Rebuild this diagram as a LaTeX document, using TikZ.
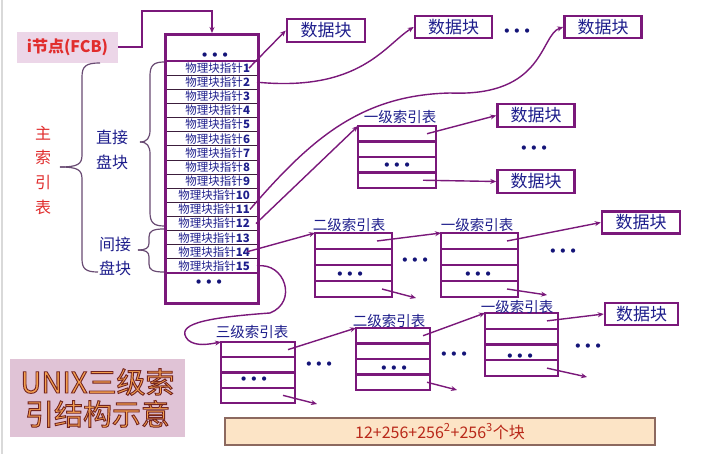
\documentclass[tikz,border=0pt]{standalone}
\usepackage{fontspec}
\usetikzlibrary{arrows.meta,calc}
\newfontfamily\cjk{Noto Sans CJK SC}
\newfontfamily\dotfont{DejaVu Sans}
\definecolor{pur}{RGB}{122,24,122}
\definecolor{bluet}{RGB}{30,30,140}
\definecolor{dotc}{RGB}{20,20,120}
\definecolor{redt}{RGB}{225,45,45}
\definecolor{bracec}{RGB}{105,75,115}
\definecolor{pinkA}{RGB}{236,214,232}
\definecolor{pinkB}{RGB}{224,195,214}
\definecolor{peach}{RGB}{252,228,198}
\definecolor{peachb}{RGB}{140,105,95}
\definecolor{sumred}{RGB}{185,40,25}
\definecolor{orangeT}{RGB}{245,160,80}
\definecolor{rowc}{RGB}{60,30,60}
\newcommand\OutOn{\special{pdf:literal direct 2 Tr 0.9 w 0.45 0.14 0.12 RG}}
\newcommand\OutOff{\special{pdf:literal direct 0 Tr}}
\newcommand\IdxTab[5]{%
  \node[irow, minimum width=#4, minimum height=#5] (#1a) at (#2,#3) {};
  \node[irow, minimum width=#4, minimum height=#5] (#1b) at (#1a.south west) {};
  \node[irow, minimum width=#4, minimum height=#5] (#1c) at (#1b.south west) {};
  \node[irow, minimum width=#4, minimum height=#5] (#1d) at (#1c.south west) {};
}
\tikzset{
  conn/.style={draw=pur, line width=1.4, -{Stealth[length=6pt,width=5pt]}},
  databox/.style={draw=pur, line width=2.5, fill=white, minimum width=77, minimum height=22,
    inner sep=0, font=\cjk\fontsize{17}{17}\selectfont, text=bluet},
  irow/.style={draw=pur, line width=2.2, inner sep=0, outer sep=0, anchor=north west},
  ilabel/.style={font=\cjk\fontsize{14.5}{14.5}\selectfont, text=bluet, inner sep=0},
  dotnode/.style={font=\dotfont\bfseries\fontsize{12}{12}\selectfont, text=dotc, inner sep=0},
  mrow/.style={draw=rowc, line width=0.8, minimum width=93, minimum height=14.133,
    text width=79, align=right, inner sep=0, outer sep=0, anchor=north west,
    font=\cjk\fontsize{11.5}{12}\selectfont, text=bluet},
  bracel/.style={draw=bracec, line width=1.2}
}
\newcommand\Dts{•\hspace{2.5pt}•\hspace{2.5pt}•}
\begin{document}
\begin{tikzpicture}[x=1pt,y=-1pt]
\useasboundingbox (0,0) rectangle (727,454);
\fill[white] (0,0) rectangle (727,454);
\draw[black!15, line width=1.5] (2,0) -- (2,454);

% FCB
\node[fill=pinkA, minimum width=101, minimum height=31, inner sep=0,
  font=\cjk\bfseries\fontsize{16}{16}\selectfont, text=redt] (fcb) at (67.5,47.5) {i节点(FCB)};

% main table rows
\foreach \i in {1,...,15}{
  \node[mrow] (r\i) at (164,{61+(\i-1)*14.133}) {物理块指针\textbf{\i}};
}
\draw[pur, line width=2.5] (r1.north west) -- (r1.north east);
\draw[pur, line width=2.5] (r15.south west) -- (r15.south east);
\node[draw=pur, line width=3, minimum width=93, minimum height=269, anchor=north west, inner sep=0] (mt) at (164,33) {};
\node[dotnode] (mdt) at (215,56) {\Dts};
\node[dotnode] (mdb) at (209,283) {\Dts};

\draw[conn, line width=2] (fcb.east) -- (142,47.5) -- (142,11) -| (mt.north);

% braces and labels
\draw[bracel] (100,63) .. controls (86,63) and (82,66) .. (82,77) -- (82,155) .. controls (82,164) and (78,167) .. (60,167);
\draw[bracel] (98,272) .. controls (86,272) and (82,269) .. (82,259) -- (82,179) .. controls (82,170) and (78,167) .. (60,167);
\draw[bracel] (164,62) .. controls (153,62) and (150,66) .. (150,76) -- (150,130) .. controls (150,138) and (147,142) .. (140,142);
\draw[bracel] (164,226) .. controls (153,226) and (150,222) .. (150,212) -- (150,154) .. controls (150,146) and (147,142) .. (140,142);
\draw[bracel] (164,229) .. controls (153,229) and (149,231) .. (149,237) -- (149,243) .. controls (149,248) and (146,250) .. (138,250);
\draw[bracel] (164,272) .. controls (153,272) and (149,270) .. (149,264) -- (149,257) .. controls (149,252) and (146,250) .. (138,250);

\node[font=\cjk\fontsize{16}{24.7}\selectfont, text=redt, align=center, inner sep=0] (zsy) at (43,170) {主\\索\\引\\表};
\node[font=\cjk\fontsize{16}{25}\selectfont, text=bluet, align=center, inner sep=0] (zj) at (112,150) {直接\\盘块};
\node[font=\cjk\fontsize{16}{24}\selectfont, text=bluet, align=center, inner sep=0] (jj) at (115,256) {间接\\盘块};

% data blocks
\node[databox, minimum width=78, minimum height=23] (d1) at (326,30.5) {数据块};
\node[databox] (d2) at (453.5,27) {数据块};
\node[databox] (d3) at (603,27) {数据块};
\node[databox, minimum height=23] (d4) at (536,115.5) {数据块};
\node[databox, minimum height=23] (d5) at (536,181.5) {数据块};
\node[databox, minimum width=78] (d6) at (641,222.5) {数据块};
\node[databox, minimum width=73] (d7) at (641.5,314) {数据块};
\node[dotnode] (td) at (517,32) {\Dts};

% index tables
\IdxTab{ta}{358}{126}{78}{15.5}
\IdxTab{tb}{315}{233}{77}{16}
\IdxTab{tc}{441}{233}{77}{16}
\IdxTab{te}{221}{342}{74}{15.25}
\IdxTab{tf}{356}{328}{74}{15.5}
\IdxTab{tg}{485}{313}{73}{15.75}

\node[ilabel] (la) at (400,117) {一级索引表};
\node[ilabel] (lb) at (349,225) {二级索引表};
\node[ilabel] (lc) at (477,225) {一级索引表};
\node[ilabel] (le) at (252,332) {三级索引表};
\node[ilabel] (lf) at (389,321) {二级索引表};
\node[ilabel] (lg) at (517,307) {一级索引表};

\node[dotnode] (dta) at (397,166) {\Dts};
\node[dotnode] (dtb) at (350,275) {\Dts};
\node[dotnode] (dtc) at (478,275) {\Dts};
\node[dotnode] (dte) at (254,380) {\Dts};
\node[dotnode] (dtf) at (394,369) {\Dts};
\node[dotnode] (dtg) at (520,357) {\Dts};
\node[dotnode] (dx1) at (534,149) {\Dts};
\node[dotnode] (dx2) at (415,261) {\Dts};
\node[dotnode] (dx3) at (563,252) {\Dts};
\node[dotnode] (dx4) at (319,365) {\Dts};
\node[dotnode] (dx5) at (454,355) {\Dts};
\node[dotnode] (dx6) at (588,347) {\Dts};

% free ends
\coordinate (c1) at (416,298);
\coordinate (c2) at (547,295);
\coordinate (c3) at (317,404);
\coordinate (c4) at (457,390);
\coordinate (c5) at (587,377);

% connectors from main table
\draw[conn] ([xshift=-8pt]r1.east) -- (d1.west);
\draw[conn] (r2.east) .. controls (360,92) and (385,45) .. (d2.west);
\draw[conn] ([xshift=-7pt]r11.east) .. controls (310,140) and (360,95) .. (450,93) .. controls (545,97) and (540,35) .. (d3.west);
\draw[conn] ([xshift=-1pt]r12.east) -- (taa.north west);
\draw[conn] ([xshift=-10pt]r14.east) -- (tba.north west);
\draw[conn] (r15.east) .. controls (285,262) and (298,302) .. (270,313) .. controls (200,318) and (175,325) .. (188,340) .. controls (196,347) and (210,344) .. (tea.north west);

% connectors from index tables
\draw[conn] ([xshift=-9pt]taa.east) -- (d4.west);
\draw[conn] ([xshift=-13pt]tad.east) -- (d5.west);
\draw[conn] ([xshift=-15pt]tba.east) -- (tca.north west);
\draw[conn] ([xshift=-10pt]tbd.east) -- (c1);
\draw[conn] ([xshift=-11pt]tca.east) -- (d6.west);
\draw[conn] ([xshift=-11pt]tcd.east) -- (c2);
\draw[conn] ([xshift=-7pt]tea.east) -- (tfa.north west);
\draw[conn] ([xshift=-12pt]ted.east) -- (c3);
\draw[conn] ([xshift=-7pt]tfa.east) -- (tga.north west);
\draw[conn] ([xshift=-3pt]tfd.east) -- (c4);
\draw[conn] ([xshift=-11pt]tga.east) -- (d7.west);
\draw[conn] ([xshift=-11pt]tgd.east) -- (c5);

% title and sum
\node[fill=pinkB, minimum width=175, minimum height=78, inner sep=0, align=center,
  font=\cjk\fontsize{29}{32}\selectfont, text=orangeT] (title) at (97.5,398)
  {\OutOn UNIX三级索\OutOff\\\OutOn 引结构示意\OutOff};
\node[fill=peach, draw=peachb, line width=1.2, minimum width=430, minimum height=27, inner sep=0,
  font=\cjk\fontsize{16}{16}\selectfont, text=sumred] (sum) at (440,431.5)
  {12+256+256\textsuperscript{2}+256\textsuperscript{3}个块};
\end{tikzpicture}
\end{document}
